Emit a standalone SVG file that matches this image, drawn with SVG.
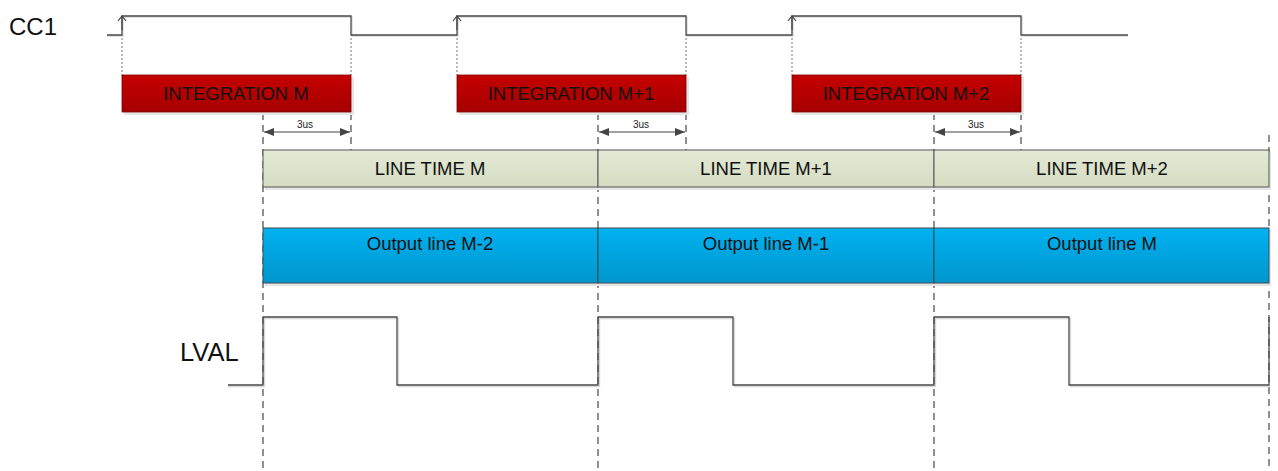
<svg xmlns="http://www.w3.org/2000/svg" width="1278" height="471" viewBox="0 0 1278 471">
<style>
.lbl{font-family:"Liberation Sans",Arial,sans-serif;fill:#111;}
.big{font-size:24px;}
.box{font-size:18.5px;text-anchor:middle;}
.small{font-size:10px;text-anchor:middle;fill:#222;}
.sig{fill:none;stroke:#4a4a4a;stroke-width:1.3;}
.sigsh{fill:none;stroke:#d8d8d8;stroke-width:1.3;}
.dot{stroke:#777;stroke-width:1;stroke-dasharray:2,2;}
.dash{stroke:#555;stroke-width:1.3;stroke-dasharray:7,5;}
.edge{stroke:#404040;stroke-width:1;}
.dim{stroke:#444;stroke-width:1.2;}
.shadow{fill:#e6e6e6;}
</style>
<defs>
<linearGradient id="gRed" x1="0" y1="0" x2="0" y2="1"><stop offset="0" stop-color="#c40000"/><stop offset="1" stop-color="#a60000"/></linearGradient>
<linearGradient id="gOl" x1="0" y1="0" x2="0" y2="1"><stop offset="0" stop-color="#e3e9d5"/><stop offset="1" stop-color="#d5dcc2"/></linearGradient>
<linearGradient id="gBl" x1="0" y1="0" x2="0" y2="1"><stop offset="0" stop-color="#00b2f0"/><stop offset="1" stop-color="#0096cc"/></linearGradient>
<marker id="open" markerWidth="10" markerHeight="10" refX="9" refY="5" orient="auto" markerUnits="userSpaceOnUse" viewBox="0 0 10 10"><path d="M4,1 L9,5 L4,9" fill="none" stroke="#444" stroke-width="1.2"/></marker>
<marker id="fill" markerWidth="10" markerHeight="8" refX="10" refY="4" orient="auto-start-reverse" markerUnits="userSpaceOnUse" viewBox="0 0 10 8"><path d="M0,0 L10,4 L0,8 Z" fill="#444"/></marker>
</defs>
<rect width="1278" height="471" fill="#fff"/>

<g id="labels">
<text class="lbl big" x="9" y="35">CC1</text>
<text class="lbl big" x="180" y="361" style="font-size:25.5px">LVAL</text>
</g>

<g id="connectors">
<line class="dash" x1="263" y1="113" x2="263" y2="471"/>
<line class="dash" x1="598" y1="113" x2="598" y2="471"/>
<line class="dash" x1="934" y1="113" x2="934" y2="471"/>
<line class="dash" x1="1269" y1="135" x2="1269" y2="471"/>
<line class="dash" x1="351" y1="113" x2="351" y2="150"/>
<line class="dash" x1="686" y1="113" x2="686" y2="150"/>
<line class="dash" x1="1021" y1="113" x2="1021" y2="150"/>
<line class="dot" x1="122" y1="38" x2="122" y2="75"/>
<line class="dot" x1="351" y1="38" x2="351" y2="75"/>
<line class="dot" x1="457" y1="38" x2="457" y2="75"/>
<line class="dot" x1="686" y1="38" x2="686" y2="75"/>
<line class="dot" x1="792" y1="38" x2="792" y2="75"/>
<line class="dot" x1="1021" y1="38" x2="1021" y2="75"/>
<line class="dim" x1="264" y1="132" x2="350" y2="132" marker-start="url(#fill)" marker-end="url(#fill)"/>
<line class="dim" x1="599" y1="132" x2="685" y2="132" marker-start="url(#fill)" marker-end="url(#fill)"/>
<line class="dim" x1="935" y1="132" x2="1020" y2="132" marker-start="url(#fill)" marker-end="url(#fill)"/>
<text class="lbl small" x="305" y="128">3us</text>
<text class="lbl small" x="641" y="128">3us</text>
<text class="lbl small" x="976" y="128">3us</text>
</g>

<g id="cc1">
<path class="sigsh" d="M107,36 H123 V17 H352 V36 H458 V17 H687 V36 H793 V17 H1022 V36 H1128"/>
<path class="sig" d="M107,35 H122 V16 H351 V35 H457 V16 H686 V35 H792 V16 H1021 V35 H1128"/>
<line class="edge" x1="122" y1="30" x2="122" y2="16" marker-end="url(#open)"/>
<line class="edge" x1="457" y1="30" x2="457" y2="16" marker-end="url(#open)"/>
<line class="edge" x1="792" y1="30" x2="792" y2="16" marker-end="url(#open)"/>
</g>

<g id="integration-m">
<rect class="shadow" x="124" y="77" width="230" height="38"/>
<rect x="122" y="75" width="229" height="37" fill="url(#gRed)" stroke="#7a0000" stroke-width="0.8"/>
<text class="lbl box" x="236" y="100">INTEGRATION M</text>
</g>
<g id="integration-m1">
<rect class="shadow" x="459" y="77" width="230" height="38"/>
<rect x="457" y="75" width="229" height="37" fill="url(#gRed)" stroke="#7a0000" stroke-width="0.8"/>
<text class="lbl box" x="571" y="100">INTEGRATION M+1</text>
</g>
<g id="integration-m2">
<rect class="shadow" x="794" y="77" width="230" height="38"/>
<rect x="792" y="75" width="229" height="37" fill="url(#gRed)" stroke="#7a0000" stroke-width="0.8"/>
<text class="lbl box" x="906" y="100">INTEGRATION M+2</text>
</g>

<g id="linetime-m">
<rect class="shadow" x="265" y="152" width="335" height="38"/>
<rect x="263" y="150" width="335" height="37" fill="url(#gOl)" stroke="#555" stroke-width="1"/>
<text class="lbl box" x="430" y="175">LINE TIME M</text>
</g>
<g id="linetime-m1">
<rect class="shadow" x="600" y="152" width="336" height="38"/>
<rect x="598" y="150" width="336" height="37" fill="url(#gOl)" stroke="#555" stroke-width="1"/>
<text class="lbl box" x="766" y="175">LINE TIME M+1</text>
</g>
<g id="linetime-m2">
<rect class="shadow" x="936" y="152" width="335" height="38"/>
<rect x="934" y="150" width="335" height="37" fill="url(#gOl)" stroke="#555" stroke-width="1"/>
<text class="lbl box" x="1102" y="175">LINE TIME M+2</text>
</g>

<g id="output-m-2">
<rect class="shadow" x="265" y="230" width="335" height="56"/>
<rect x="263" y="228" width="335" height="55" fill="url(#gBl)" stroke="#3a4a55" stroke-width="1"/>
<text class="lbl box" x="430" y="250">Output line M-2</text>
</g>
<g id="output-m-1">
<rect class="shadow" x="600" y="230" width="336" height="56"/>
<rect x="598" y="228" width="336" height="55" fill="url(#gBl)" stroke="#3a4a55" stroke-width="1"/>
<text class="lbl box" x="766" y="250">Output line M-1</text>
</g>
<g id="output-m">
<rect class="shadow" x="936" y="230" width="335" height="56"/>
<rect x="934" y="228" width="335" height="55" fill="url(#gBl)" stroke="#3a4a55" stroke-width="1"/>
<text class="lbl box" x="1102" y="250">Output line M</text>
</g>

<g id="lval">
<path class="sigsh" d="M228,386.5 H264.5 V318.5 H398.5 V386.5 H599.5 V318.5 H734.5 V386.5 H935.5 V318.5 H1070.5 V386.5 H1270"/>
<path class="sig" d="M228,385 H263 V317 H397 V385 H598 V317 H733 V385 H934 V317 H1069 V385 H1269 V317"/>
</g>
</svg>
